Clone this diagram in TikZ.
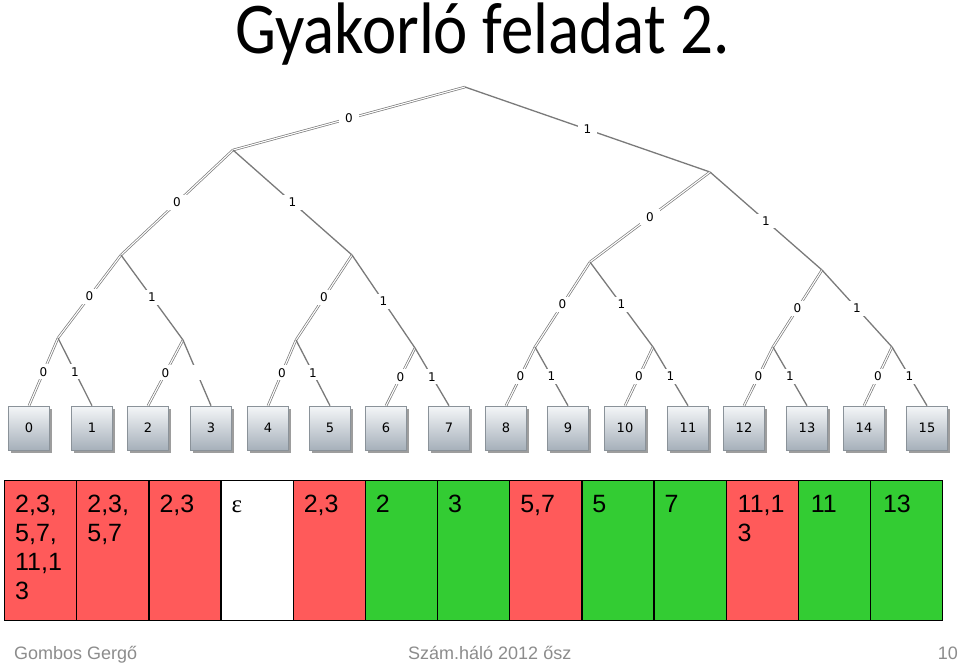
\documentclass[tikz,border=0pt]{standalone}
\usepackage{fontspec}
\setmainfont{Liberation Sans}
\newfontfamily\dejavu{DejaVu Sans}
\newfontfamily\carlito{Carlito}
\newfontfamily\sereps{Liberation Serif}
\usetikzlibrary{shadows}
\definecolor{edgegray}{HTML}{7A7A7A}
\definecolor{leaftop}{HTML}{F4F6F8}
\definecolor{leafbot}{HTML}{A6B0BA}
\definecolor{leafborder}{HTML}{8A9299}
\definecolor{cred}{HTML}{FF5A5A}
\definecolor{cgreen}{HTML}{33CC33}
\definecolor{footgray}{HTML}{8C8C8C}
\tikzset{
  zero/.style={draw=edgegray, line width=0.7pt, double=white, double distance=1.1pt},
  one/.style={draw=edgegray, line width=1.3pt},
  lbl/.style={fill=white, font=\dejavu\fontsize{12}{14}\selectfont, inner xsep=6pt, inner ysep=3pt},
  leaf/.style={draw=leafborder, line width=0.6pt, minimum width=41pt, minimum height=44pt, inner sep=0pt,
    top color=leaftop, bottom color=leafbot,
    drop shadow={shadow xshift=2.5pt, shadow yshift=-2.5pt, opacity=0.55, fill=black!70},
    font=\dejavu\fontsize{13}{15}\selectfont},
  cell/.style={draw=black, line width=1.3pt, minimum width=72.15pt, minimum height=140pt, inner sep=0pt, anchor=north west},
  celltxt/.style={anchor=north west, inner sep=0pt, align=left, font=\fontsize{25}{29}\selectfont},
  foot/.style={anchor=base west, inner sep=0pt, text=footgray, font=\fontsize{18}{20}\selectfont}
}
\begin{document}
\begin{tikzpicture}[x=1pt,y=-1pt]
\useasboundingbox (0,0) rectangle (960,665);
% title
\node[anchor=base west, inner sep=0pt, font=\carlito\fontsize{64}{70}\selectfont] (title) at (235,53) {\scalebox{1.015}[1.14]{Gyakorló feladat 2.}};
% internal tree points
\coordinate (r) at (465,87);
\coordinate (n0) at (233,150);
\coordinate (n1) at (710,172);
\coordinate (n00) at (121,255);
\coordinate (n01) at (352,255);
\coordinate (n10) at (590,262);
\coordinate (n11) at (822,270);
\coordinate (n000) at (58,338);
\coordinate (n001) at (183,340);
\coordinate (n010) at (296,340);
\coordinate (n011) at (415,348);
\coordinate (n100) at (535,347);
\coordinate (n101) at (653,347);
\coordinate (n110) at (773,347);
\coordinate (n111) at (892,347);
% leaves
\foreach \i/\x in {0/29,1/92,2/148,3/211,4/268,5/330,6/386,7/449,8/506,9/568,10/625,11/688,12/744,13/807,14/864,15/927}
  \node[leaf] (l\i) at (\x,428) {\i};
% edges
\draw[zero] (r) -- node[lbl]{0} (n0);
\draw[one]  (r) -- node[lbl]{1} (n1);
\draw[zero] (n0) -- node[lbl]{0} (n00);
\draw[one]  (n0) -- node[lbl]{1} (n01);
\draw[zero] (n1) -- node[lbl]{0} (n10);
\draw[one]  (n1) -- node[lbl]{1} (n11);
\draw[zero] (n00) -- node[lbl]{0} (n000);
\draw[one]  (n00) -- node[lbl]{1} (n001);
\draw[zero] (n01) -- node[lbl]{0} (n010);
\draw[one]  (n01) -- node[lbl]{1} (n011);
\draw[zero] (n10) -- node[lbl]{0} (n100);
\draw[one]  (n10) -- node[lbl]{1} (n101);
\draw[zero] (n11) -- node[lbl]{0} (n110);
\draw[one]  (n11) -- node[lbl]{1} (n111);
\draw[zero] (n000) -- node[lbl]{0} (l0.north);
\draw[one]  (n000) -- node[lbl]{1} (l1.north);
\draw[zero] (n001) -- node[lbl]{0} (l2.north);
\draw[one]  (n001) -- node[lbl]{\phantom{1}} (l3.north);
\draw[zero] (n010) -- node[lbl]{0} (l4.north);
\draw[one]  (n010) -- node[lbl]{1} (l5.north);
\draw[zero] (n011) -- node[lbl]{0} (l6.north);
\draw[one]  (n011) -- node[lbl]{1} (l7.north);
\draw[zero] (n100) -- node[lbl]{0} (l8.north);
\draw[one]  (n100) -- node[lbl]{1} (l9.north);
\draw[zero] (n101) -- node[lbl]{0} (l10.north);
\draw[one]  (n101) -- node[lbl]{1} (l11.north);
\draw[zero] (n110) -- node[lbl]{0} (l12.north);
\draw[one]  (n110) -- node[lbl]{1} (l13.north);
\draw[zero] (n111) -- node[lbl]{0} (l14.north);
\draw[one]  (n111) -- node[lbl]{1} (l15.north);
% table
\foreach \i/\c in {0/cred,1/cred,2/cred,3/white,4/cred,5/cgreen,6/cgreen,7/cred,8/cgreen,9/cgreen,10/cred,11/cgreen,12/cgreen}
  \node[cell, fill=\c] (c\i) at ({4+72.15*\i},480) {};
\node[celltxt] (t0) at (15,495) {2,3,\\5,7,\\11,1\\3};
\node[celltxt] (t1) at (87.15,495) {2,3,\\5,7};
\node[celltxt] (t2) at (159.3,495) {2,3};
\node[celltxt, anchor=base west, font=\sereps\fontsize{25}{29}\selectfont] (t3) at (231.45,512) {ε};
\node[celltxt] (t4) at (303.6,495) {2,3};
\node[celltxt] (t5) at (375.75,495) {2};
\node[celltxt] (t6) at (447.9,495) {3};
\node[celltxt] (t7) at (520.05,495) {5,7};
\node[celltxt] (t8) at (592.2,495) {5};
\node[celltxt] (t9) at (664.35,495) {7};
\node[celltxt] (t10) at (737.5,495) {11,1\\3};
\node[celltxt] (t11) at (810.65,495) {11};
\node[celltxt] (t12) at (882.8,495) {13};
% footer
\node[foot] (f1) at (14,659) {Gombos Gergő};
\node[foot] (f2) at (408,659) {Szám.háló 2012 ősz};
\node[foot, anchor=base east] (f3) at (958,659) {10};
\end{tikzpicture}
\end{document}
